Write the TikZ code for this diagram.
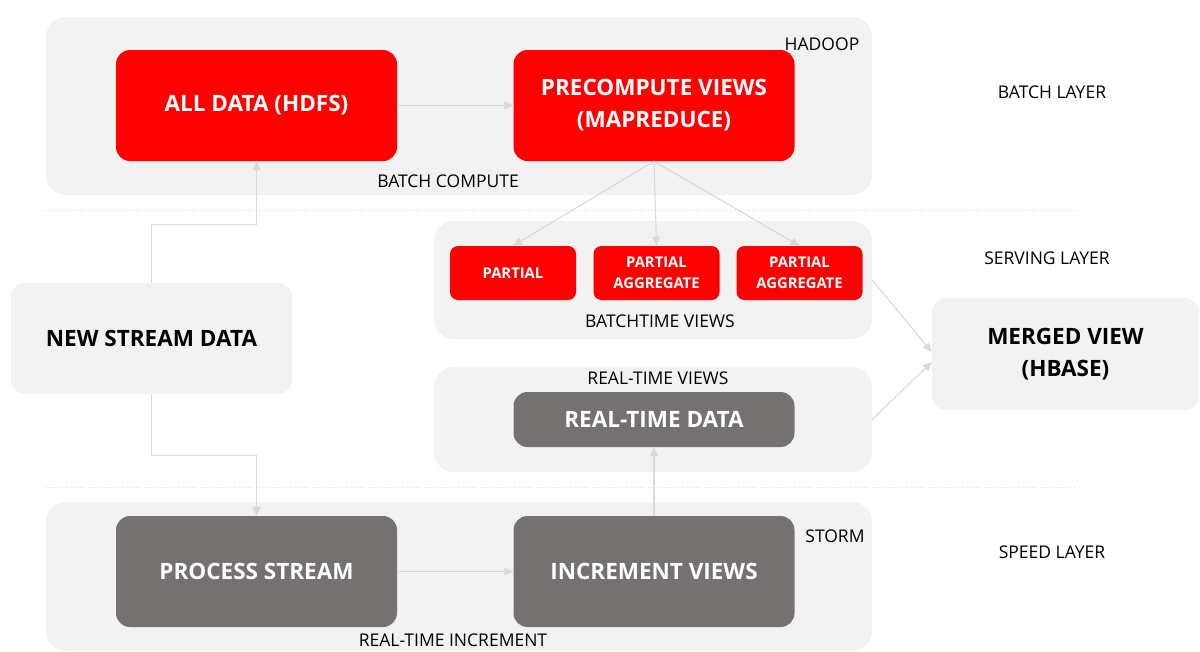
\documentclass[tikz,border=0pt]{standalone}
\usepackage{fontspec}
\setmainfont{Open Sans}
\usepackage{tikz}
\usetikzlibrary{arrows.meta}

\definecolor{panelgray}{HTML}{F2F2F2}
\definecolor{boxred}{HTML}{FF0000}
\definecolor{boxgray}{HTML}{767171}
\definecolor{linkgray}{HTML}{D9D9D9}

\tikzset{
  panel/.style={fill=panelgray, rounded corners=20pt},
  bigbox/.style={rounded corners=14pt, align=center, minimum width=281pt, minimum height=111pt,
    font=\bfseries\fontsize{22.5}{32}\selectfont},
  redbox/.style={bigbox, fill=boxred, text=white},
  graybox/.style={bigbox, fill=boxgray, text=white},
  lightbox/.style={bigbox, fill=panelgray, text=black},
  partbox/.style={rounded corners=8pt, fill=boxred, text=white, align=center,
    minimum width=126pt, minimum height=54pt, font=\bfseries\fontsize{14.8}{21}\selectfont},
  layerlabel/.style={font=\fontsize{17.5}{20}\selectfont, text=black, inner sep=0pt},
  link/.style={draw=linkgray, line width=1.1pt, -{Triangle[length=9pt,width=8pt]}},
  sepline/.style={draw=linkgray, dotted, line width=0.8pt}
}

\begin{document}
\begin{tikzpicture}[x=1pt,y=-1pt]
    \useasboundingbox (0,0) rectangle (1200,651);

    % Background panels
    \fill[panel] (46,17) rectangle (872,195);
    \node[panel, minimum width=438pt, minimum height=118pt, inner sep=0pt] (serve) at (653,280) {};
    \node[panel, minimum width=438pt, minimum height=105pt, inner sep=0pt] (rtpanel) at (653,419.5) {};
    \fill[panel] (46,502) rectangle (872,651);

    % Layer separators
    \draw[sepline] (46,210) -- (1076,210);
    \draw[sepline] (46,487) -- (1076,487);

    % Batch layer
    \node[redbox] (alldata) at (256.5,105.5) {ALL DATA (HDFS)};
    \node[redbox] (precompute) at (654,105.5) {PRECOMPUTE VIEWS\\(MAPREDUCE)};
    \node[layerlabel] (hadoop) at (822,44) {HADOOP};
    \node[layerlabel] (batchcompute) at (448,181) {BATCH COMPUTE};

    % Serving layer
    \node[partbox] (partA) at (513,273) {PARTIAL};
    \node[partbox] (partB) at (656.5,273) {PARTIAL\\AGGREGATE};
    \node[partbox] (partC) at (799.5,273) {PARTIAL\\AGGREGATE};
    \node[layerlabel] (batchviews) at (660,321) {BATCHTIME VIEWS};
    \node[layerlabel] (rtviews) at (658,378) {REAL-TIME VIEWS};
    \node[graybox, minimum height=55pt] (rtdata) at (654,419.5) {REAL-TIME DATA};

    % Stream input and merged output
    \node[lightbox] (newstream) at (151.5,338.5) {NEW STREAM DATA};
    \node[lightbox, minimum width=267pt, minimum height=112pt] (merged) at (1065.5,354) {MERGED VIEW\\(HBASE)};

    % Speed layer
    \node[graybox] (process) at (256.5,571.5) {PROCESS STREAM};
    \node[graybox] (increment) at (654,571.5) {INCREMENT VIEWS};
    \node[layerlabel] (storm) at (835,536) {STORM};
    \node[layerlabel] (rtincrement) at (453,640) {REAL-TIME INCREMENT};

    % Layer names
    \node[layerlabel] at (1052,92) {BATCH LAYER};
    \node[layerlabel] at (1047,258) {SERVING LAYER};
    \node[layerlabel] at (1052,552) {SPEED LAYER};

    % Connectors
    \draw[link] (alldata) -- (precompute);
    \draw[link] (precompute.south) -- (partA.north);
    \draw[link] (precompute.south) -- (partB.north);
    \draw[link] (precompute.south) -- (partC.north);
    \draw[link] (newstream.north) -- ++(0,-58) -| (alldata.south);
    \draw[link] (newstream.south) -- ++(0,61) -| (process.north);
    \draw[link] (process) -- (increment);
    \draw[link] (increment.north) -- (rtdata.south);
    \draw[link] (serve.east) -- ([yshift=2pt]merged.west);
    \draw[link] (rtpanel.east) -- ([yshift=-8pt]merged.west);
\end{tikzpicture}
\end{document}
